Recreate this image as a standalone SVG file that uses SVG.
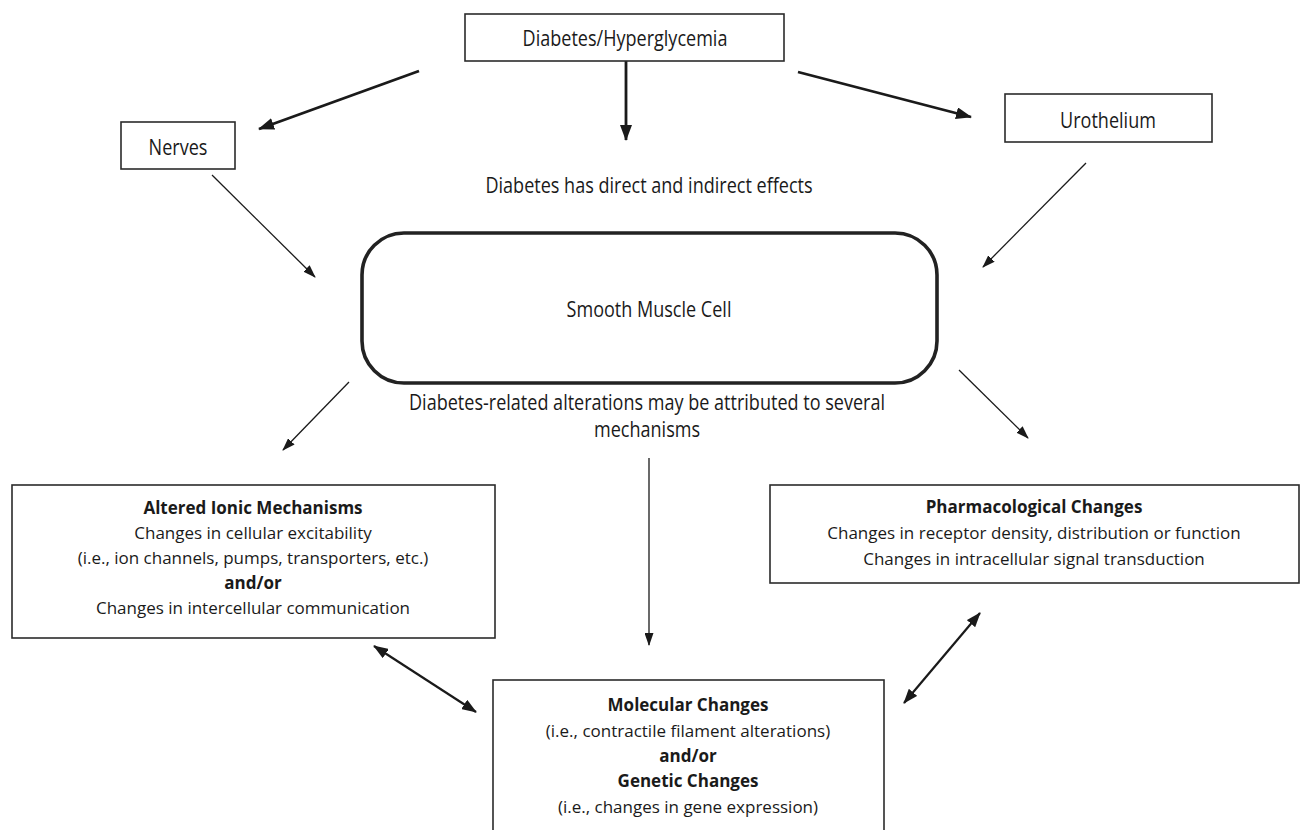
<svg xmlns="http://www.w3.org/2000/svg" width="1311" height="830" viewBox="0 0 1311 830">
<defs>
<style>
.bg{fill:#ffffff}
.box{fill:#ffffff;stroke:#2b2b2b;stroke-width:1.6}
.cell{fill:#ffffff;stroke:#222222;stroke-width:3.6}
.top{font-family:"Open Sans","Noto Sans","Liberation Sans",sans-serif;font-size:22px;fill:#1a1a1a;text-anchor:middle}
.body{font-family:"Open Sans","Noto Sans","Liberation Sans",sans-serif;font-size:17px;fill:#1a1a1a;text-anchor:middle}
.b{font-weight:bold}
.thick{stroke:#1a1a1a;stroke-width:2.8;fill:none}
.thin{stroke:#1a1a1a;stroke-width:1.3;fill:none}
.mid{stroke:#1a1a1a;stroke-width:2.2;fill:none}
</style>
<marker id="ahThick" viewBox="0 0 16 12" refX="15" refY="6" markerWidth="16" markerHeight="12" markerUnits="userSpaceOnUse" orient="auto">
<path d="M0,0 L16,6 L0,12 z" fill="#1a1a1a"/>
</marker>
<marker id="ahThin" viewBox="0 0 13 9" refX="12" refY="4.5" markerWidth="13" markerHeight="9" markerUnits="userSpaceOnUse" orient="auto">
<path d="M0,0 L13,4.5 L0,9 z" fill="#1a1a1a"/>
</marker>
<marker id="ahMid" viewBox="0 0 15 11" refX="14" refY="5.5" markerWidth="15" markerHeight="11" markerUnits="userSpaceOnUse" orient="auto-start-reverse">
<path d="M0,0 L15,5.5 L0,11 z" fill="#1a1a1a"/>
</marker>
</defs>
<rect class="bg" x="0" y="0" width="1311" height="830"/>

<g id="connectors">
<line class="thick" x1="419" y1="71" x2="259" y2="129" marker-end="url(#ahThick)"/>
<line class="thick" x1="626" y1="61" x2="626" y2="140" marker-end="url(#ahThick)"/>
<line class="thick" x1="798" y1="72" x2="971" y2="117" marker-end="url(#ahThick)"/>
<line class="thin" x1="212" y1="175" x2="315" y2="277" marker-end="url(#ahThin)"/>
<line class="thin" x1="1086" y1="163" x2="983" y2="267" marker-end="url(#ahThin)"/>
<line class="thin" x1="349" y1="382" x2="283" y2="450" marker-end="url(#ahThin)"/>
<line class="thin" x1="959" y1="370" x2="1028" y2="438" marker-end="url(#ahThin)"/>
<line class="thin" x1="649" y1="458" x2="649" y2="645" marker-end="url(#ahThin)"/>
<line class="mid" x1="374" y1="646" x2="476" y2="712" marker-start="url(#ahMid)" marker-end="url(#ahMid)"/>
<line class="mid" x1="980" y1="613" x2="904" y2="703" marker-start="url(#ahMid)" marker-end="url(#ahMid)"/>
</g>

<g id="diabetes">
<rect class="box" x="465" y="14" width="319" height="47"/>
<text class="top" transform="translate(625,46) scale(0.82,1)">Diabetes/Hyperglycemia</text>
</g>

<g id="nerves">
<rect class="box" x="121" y="122" width="114" height="47"/>
<text class="top" transform="translate(178,155) scale(0.82,1)">Nerves</text>
</g>

<g id="urothelium">
<rect class="box" x="1005" y="94" width="207" height="48"/>
<text class="top" transform="translate(1108,128) scale(0.82,1)">Urothelium</text>
</g>

<g id="label-direct">
<text class="top" transform="translate(649,193) scale(0.82,1)">Diabetes has direct and indirect effects</text>
</g>

<g id="smooth-muscle-cell">
<rect class="cell" x="362" y="233" width="575" height="150" rx="42" ry="42"/>
<text class="top" transform="translate(649,317) scale(0.82,1)">Smooth Muscle Cell</text>
</g>

<g id="label-mechanisms">
<text class="top" transform="translate(647,410) scale(0.82,1)">Diabetes-related alterations may be attributed to several</text>
<text class="top" transform="translate(647,437) scale(0.82,1)">mechanisms</text>
</g>

<g id="altered-ionic">
<rect class="box" x="12" y="485" width="483" height="153"/>
<text class="body b" x="253" y="514">Altered Ionic Mechanisms</text>
<text class="body" x="253" y="539">Changes in cellular excitability</text>
<text class="body" x="253" y="564">(i.e., ion channels, pumps, transporters, etc.)</text>
<text class="body b" x="253" y="589">and/or</text>
<text class="body" x="253" y="614">Changes in intercellular communication</text>
</g>

<g id="pharmacological">
<rect class="box" x="770" y="485" width="529" height="98"/>
<text class="body b" x="1034" y="513">Pharmacological Changes</text>
<text class="body" x="1034" y="539">Changes in receptor density, distribution or function</text>
<text class="body" x="1034" y="565">Changes in intracellular signal transduction</text>
</g>

<g id="molecular-genetic">
<rect class="box" x="493" y="680" width="391" height="160"/>
<text class="body b" x="688" y="711">Molecular Changes</text>
<text class="body" x="688" y="737">(i.e., contractile filament alterations)</text>
<text class="body b" x="688" y="762">and/or</text>
<text class="body b" x="688" y="787">Genetic Changes</text>
<text class="body" x="688" y="813">(i.e., changes in gene expression)</text>
</g>
</svg>
